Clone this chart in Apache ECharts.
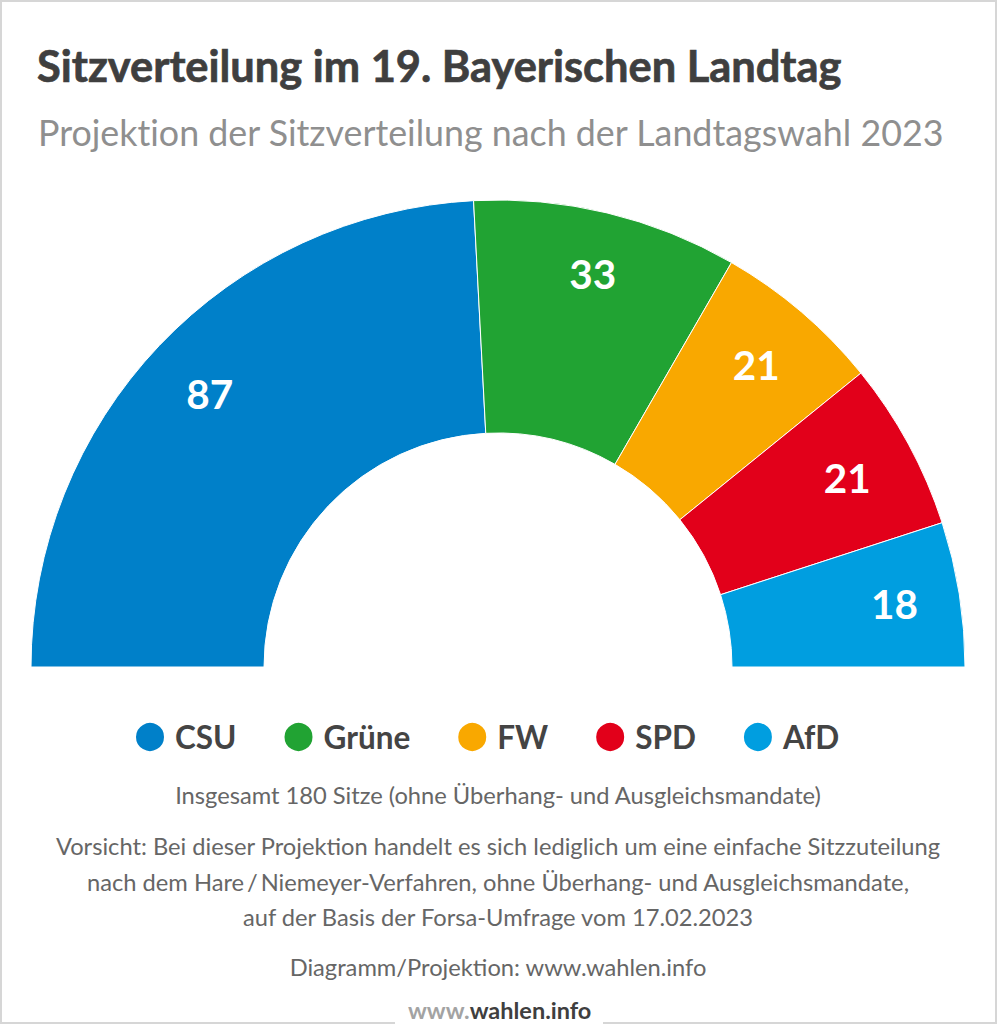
<!DOCTYPE html>
<html>
<head>
<meta charset="utf-8">
<style>
  html, body { margin: 0; padding: 0; background: #fff; }
  #main { width: 997px; height: 1024px; }
  /* keine ti-Ligaturen wie im Original */
  #main text { font-variant-ligatures: none; }
</style>
<script src="https://cdn.jsdelivr.net/npm/echarts@6/dist/echarts.min.js"></script>
</head>
<body>
<div id="main"></div>
<script>
var parties = ['CSU', 'Grüne', 'FW', 'SPD', 'AfD'];
var seats = [87, 33, 21, 21, 18];
var colors = ['#0080c9', '#21a333', '#f9a800', '#e2001a', '#009ee0'];
var labelOffsets = [[0, 0], [2, -7], [0, 0], [0, 0], [4, -1]];

var titleText = 'Sitzverteilung im 19. Bayerischen Landtag';
var subtitleText = 'Projektion der Sitzverteilung nach der Landtagswahl 2023';
var noteLines = [
  ['Insgesamt 180 Sitze (ohne Überhang- und Ausgleichsmandate)', 795],
  ['Vorsicht: Bei dieser Projektion handelt es sich lediglich um eine einfache Sitzzuteilung', 846],
  ['nach dem Hare\u2009/\u2009Niemeyer-Verfahren, ohne Überhang- und Ausgleichsmandate,', 882],
  ['auf der Basis der Forsa-Umfrage vom 17.02.2023', 917],
  ['Diagramm/Projektion: www.wahlen.info', 967]
];

var font = 'Lato';
var chart = echarts.init(document.getElementById('main'), null, {renderer: 'svg'});

var pieData = parties.map(function (name, i) {
  return {name: name, value: seats[i], itemStyle: {color: colors[i]}};
});

function noteText(item) {
  return {
    type: 'text',
    x: 498,
    y: item[1],
    style: {
      text: item[0],
      font: '23.7px ' + font,
      fill: '#666666',
      align: 'center',
      verticalAlign: 'middle'
    }
  };
}

function borderLine(points) {
  return {
    type: 'polyline',
    shape: {points: points},
    style: {stroke: '#d6d6d6', lineWidth: 2, fill: null}
  };
}

var option = {
  backgroundColor: '#fff',
  animation: false,
  title: [
    {
      text: titleText,
      left: 32,
      top: 38,
      textStyle: {
        fontFamily: font, fontSize: 43.4, fontWeight: 'bold', color: '#3f3f3f',
        textBorderColor: '#3f3f3f', textBorderWidth: 0.7
      }
    },
    {
      text: subtitleText,
      left: 33,
      top: 109,
      textStyle: {fontFamily: font, fontSize: 35.8, fontWeight: 'normal', color: '#8f8f8f'}
    }
  ],
  legend: {
    left: 129,
    top: 716,
    itemWidth: 30,
    itemHeight: 30,
    itemGap: 46,
    icon: 'circle',
    data: parties,
    selectedMode: false,
    textStyle: {fontFamily: font, fontSize: 31.5, fontWeight: 'bold', color: '#444444', padding: [0, 0, 0, 5]}
  },
  series: [
    {
      type: 'pie',
      center: [498, 667],
      radius: [234, 467],
      startAngle: 180,
      endAngle: 360,
      clockwise: true,
      silent: true,
      itemStyle: {borderColor: '#fff', borderWidth: 1},
      label: {show: false},
      labelLine: {show: false},
      data: pieData
    },
    {
      // unsichtbarer Ring, damit die Zahlen weiter aussen sitzen
      type: 'pie',
      center: [498, 667],
      radius: [322, 467],
      startAngle: 180,
      endAngle: 360,
      clockwise: true,
      silent: true,
      legendHoverLink: false,
      itemStyle: {color: 'transparent'},
      label: {
        show: true,
        position: 'inside',
        formatter: '{c}',
        fontFamily: font,
        fontSize: 40.5,
        fontWeight: 'bold',
        color: '#fff'
      },
      labelLine: {show: false},
      data: parties.map(function (name, i) {
        return {
          name: name,
          value: seats[i],
          itemStyle: {color: 'transparent'},
          label: {offset: labelOffsets[i]}
        };
      })
    }
  ],
  graphic: noteLines.map(noteText).concat([
    borderLine([[1, 1023], [1, 1], [996, 1], [996, 1023]]),
    borderLine([[0, 1023], [395, 1023]]),
    borderLine([[603, 1023], [997, 1023]]),
    {
      type: 'text',
      x: 408,
      y: 1010,
      style: {
        rich: {
          a: {font: 'bold 23.5px ' + font, fill: '#a3a3a3', lineHeight: 16},
          b: {font: 'bold 23.5px ' + font, fill: '#3f3f3f', lineHeight: 16}
        },
        text: '{a|www.}{b|wahlen.info}',
        verticalAlign: 'middle'
      }
    }
  ])
};

chart.setOption(option);
</script>
</body>
</html>
